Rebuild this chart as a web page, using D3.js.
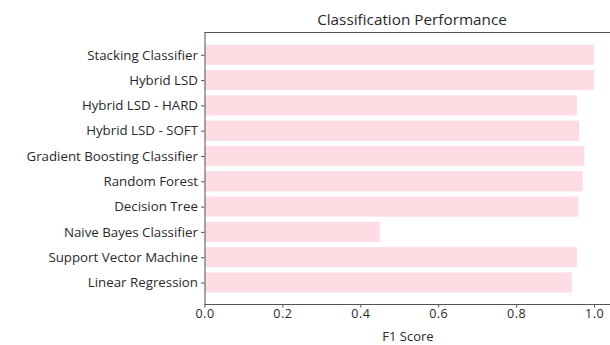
<!DOCTYPE html>
<html><head><meta charset="utf-8">
<script src="https://cdn.jsdelivr.net/npm/d3@7"></script>
<style>body{margin:0;background:#fff;}svg{display:block;font-family:"Open Sans",sans-serif;}</style>
</head><body>
<svg id="c" width="610" height="345"></svg>
<script>
const categories = ["Linear Regression","Support Vector Machine","Naive Bayes Classifier","Decision Tree","Random Forest","Gradient Boosting Classifier","Hybrid LSD - SOFT","Hybrid LSD - HARD","Hybrid LSD","Stacking Classifier"];
const f1Scores = [0.943,0.956,0.45,0.96,0.971,0.975,0.962,0.956,1.0,1.0];
const xTicks = [0,0.2,0.4,0.6,0.8,1.0];
const title = "Classification Performance";
const xLabel = "F1 Score";

const svg = d3.select("#c");
const L = 204.5, R = 613.5, T = 32, B = 304;
const x = d3.scaleLinear().domain([0,1.05]).range([L,R]);
const y = d3.scaleLinear().domain([-0.85,9.9]).range([B,T]);
const bh = y(0) - y(0.8);

svg.append("g").selectAll("rect").data(categories).join("rect")
  .attr("x", x(0)).attr("y", (d,i)=>y(i+0.4))
  .attr("width", (d,i)=>x(f1Scores[i])-x(0)).attr("height", bh)
  .attr("fill", "#fddde3");

const gx = svg.append("g").attr("transform",`translate(0,${B})`)
  .call(d3.axisBottom(x).tickValues(xTicks).tickFormat(d3.format(".1f")).tickSize(3.5).tickPadding(2));
const gy = svg.append("g").attr("transform",`translate(${L},0)`)
  .call(d3.axisLeft(y).tickValues(d3.range(categories.length)).tickFormat(i=>categories[i]).tickSize(3.5).tickPadding(3));
[gx,gy].forEach(g=>{
  g.selectAll("path").attr("stroke","#555").attr("stroke-width",1);
  g.selectAll("line").attr("stroke","#555");
  g.selectAll("text").attr("fill","#2a2a2a").style("font-family","Open Sans");
});
gy.selectAll("text").style("font-size","13.3px");
gx.selectAll("text").style("font-size","12.5px").style("letter-spacing","0.5px");
gy.select(".domain").attr("d",`M0.5,${B}V${T}`);
gx.select(".domain").attr("d",`M${L},0.5H${R}`);
svg.append("line").attr("x1",L).attr("x2",R).attr("y1",T+0.5).attr("y2",T+0.5).attr("stroke","#555");

svg.append("text").attr("x",412).attr("y",25).attr("text-anchor","middle")
  .attr("fill","#2a2a2a").style("font-size","15.3px").text(title);
svg.append("text").attr("x",408).attr("y",341).attr("text-anchor","middle")
  .attr("fill","#2a2a2a").style("font-size","13px").text(xLabel);
</script>
</body></html>
